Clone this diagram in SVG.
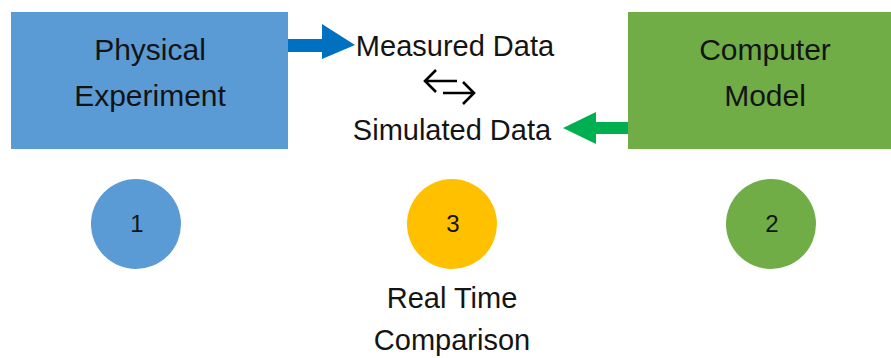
<svg xmlns="http://www.w3.org/2000/svg" width="891" height="358" viewBox="0 0 891 358">
<style>
text{font-family:"Liberation Sans",Arial,sans-serif;fill:#141414;text-anchor:middle}
.big{font-size:30px}
.mid{font-size:29px}
.num{font-size:24px}
.swap{fill:none;stroke:#000;stroke-width:2.6;stroke-linecap:butt;stroke-linejoin:miter}
</style>
<rect width="891" height="358" fill="#fff"/>
<g id="physical">
<rect x="11" y="12" width="277" height="137" fill="#5B9BD5"/>
<text class="big" x="150" y="60">Physical</text>
<text class="big" x="150" y="106">Experiment</text>
</g>
<g id="computer">
<rect x="628" y="12" width="263" height="137" fill="#70AD47"/>
<text class="big" x="765" y="60">Computer</text>
<text class="big" x="765" y="106">Model</text>
</g>
<g id="measured">
<text class="mid" x="455" y="56">Measured Data</text>
</g>
<g id="simulated">
<text class="mid" x="452" y="140">Simulated Data</text>
</g>
<g id="c1">
<circle cx="136" cy="224" r="45" fill="#5B9BD5"/>
<text class="num" x="137" y="232">1</text>
</g>
<g id="c3">
<circle cx="452" cy="224" r="45" fill="#FFC000"/>
<text class="num" x="453" y="232">3</text>
</g>
<g id="c2">
<circle cx="771" cy="224" r="45" fill="#70AD47"/>
<text class="num" x="772" y="232">2</text>
</g>
<g id="comparison">
<text class="mid" x="452" y="308">Real Time</text>
<text class="mid" x="452" y="350">Comparison</text>
</g>
<g id="connectors">
<polygon points="288,39 322,39 322,24 355,45 322,59 322,52 288,52" fill="#0070C0"/>
<polygon points="628,122 596,122 596,112 563,128 596,144 596,134 628,134" fill="#00B050"/>
<path class="swap" d="M425,81 H457 M436,70 L425,81 L436,92"/>
<path class="swap" d="M443,93 H474 M463,82 L474,93 L463,104"/>
</g>
</svg>
